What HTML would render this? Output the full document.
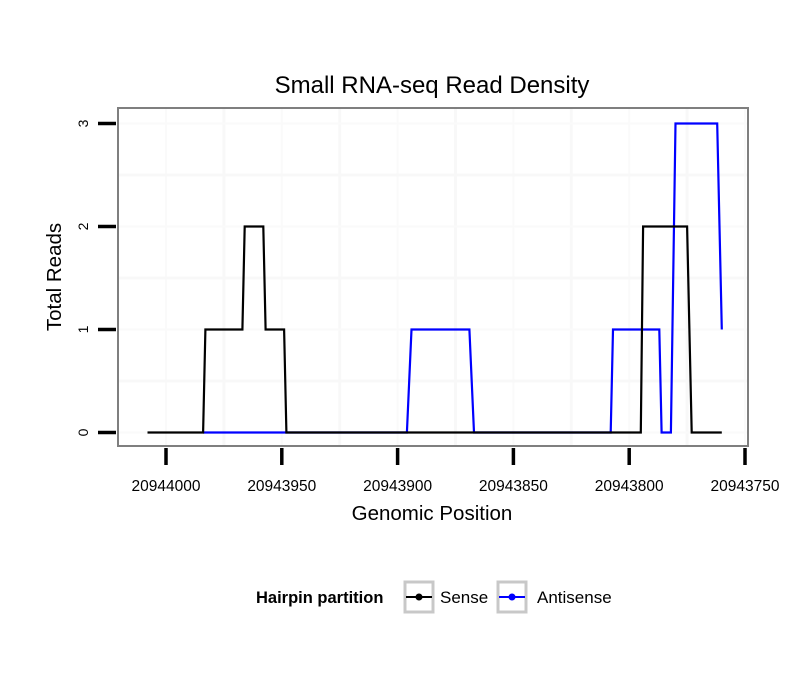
<!DOCTYPE html>
<html><head><meta charset="utf-8"><style>
body{margin:0;background:#fff;}
svg text{font-family:"Liberation Sans",sans-serif;}
</style></head><body>
<svg width="810" height="690" xmlns="http://www.w3.org/2000/svg">
<text x="432" y="93" font-size="24" text-anchor="middle">Small RNA-seq Read Density</text>
<rect x="118" y="108" width="630" height="338" fill="#fff" stroke="#7f7f7f" stroke-width="2"/>
<g id="grid"></g>
<g id="series"></g>
<g id="axes"></g>
<text x="432" y="520" font-size="20.5" text-anchor="middle">Genomic Position</text>
<text transform="translate(61,277) rotate(-90)" font-size="20.5" text-anchor="middle">Total Reads</text>
<g>
<text x="256" y="603" font-size="16.5" font-weight="bold">Hairpin partition</text>
<g>
<rect x="405" y="582" width="28" height="30" fill="#fff" stroke="#c8c8c8" stroke-width="3"/>
<line x1="406" y1="597" x2="432" y2="597" stroke="#000" stroke-width="2"/><circle cx="419" cy="597" r="3.5" fill="#000"/>
<text x="440" y="603" font-size="17">Sense</text></g>
<g>
<rect x="498" y="582" width="28" height="30" fill="#fff" stroke="#c8c8c8" stroke-width="3"/>
<line x1="499" y1="597" x2="525" y2="597" stroke="#00f" stroke-width="2"/><circle cx="512" cy="597" r="3.5" fill="#00f"/>
<text x="537" y="603" font-size="17">Antisense</text></g>
</g>
</svg>
<script>
const xTicks=[20944000,20943950,20943900,20943850,20943800,20943750];
const yTicks=[0,1,2,3];
const senseX=[20944008,20943984,20943983,20943967,20943966,20943958,20943957,20943949,20943948,20943795,20943794,20943775,20943773,20943760];
const senseY=[0,0,1,1,2,2,1,1,0,0,2,2,0,0];
const antiX=[20943984,20943896,20943894,20943869,20943867,20943808,20943807,20943787,20943786,20943782,20943780,20943762,20943760];
const antiY=[0,0,1,1,0,0,1,1,0,0,3,3,1];
const NS="http://www.w3.org/2000/svg";
const xs=v=>166+(20944000-v)*579/250;
const ys=v=>432.5-v*103;
function mk(t,a,p){const e=document.createElementNS(NS,t);for(const k in a)e.setAttribute(k,a[k]);document.getElementById(p).appendChild(e);return e;}
for(let i=0;i<xTicks.length;i++){
 const l=mk('line',{x1:xs(xTicks[i]),x2:xs(xTicks[i]),y1:109,y2:445,stroke:'#fafafa','stroke-width':2},'grid');
 
 
 if(i<xTicks.length-1){const m=(xTicks[i]+xTicks[i+1])/2;
 const l2=mk('line',{x1:xs(m),x2:xs(m),y1:109,y2:445,stroke:'#f8f8f8','stroke-width':3},'grid');
 
 }
}
for(let i=0;i<yTicks.length;i++){
 const l=mk('line',{x1:119,x2:747,y1:ys(yTicks[i]),y2:ys(yTicks[i]),stroke:'#fafafa','stroke-width':2},'grid');
 
 
 if(i<yTicks.length-1){const m=(yTicks[i]+yTicks[i+1])/2;
 const l2=mk('line',{x1:119,x2:747,y1:ys(m),y2:ys(m),stroke:'#f8f8f8','stroke-width':3},'grid');
 
 }
}
function pts(X,Y){return X.map((v,i)=>xs(v).toFixed(1)+','+ys(Y[i]).toFixed(1)).join(' ');}
const a=mk('polyline',{points:pts(antiX,antiY),fill:'none',stroke:'#0000ff','stroke-width':2.2},'series');


const s=mk('polyline',{points:pts(senseX,senseY),fill:'none',stroke:'#000','stroke-width':2.2},'series');


for(const t of xTicks){
 const x=xs(t);
 const tk=mk('line',{x1:x,x2:x,y1:448,y2:465,stroke:'#000','stroke-width':3.5},'axes');
 
 
 const tx=mk('text',{x:x,y:491,'font-size':15.5,'text-anchor':'middle'},'axes');
 tx.textContent=t;
 
 
}
for(const t of yTicks){
 const y=ys(t);
 const tk=mk('line',{x1:98,x2:116,y1:y,y2:y,stroke:'#000','stroke-width':3.5},'axes');
 
 
 const tx=mk('text',{transform:'translate(88,'+y+') rotate(-90)','font-size':14,'text-anchor':'middle'},'axes');
 tx.textContent=t;
 
 
}
</script>
</body></html>
